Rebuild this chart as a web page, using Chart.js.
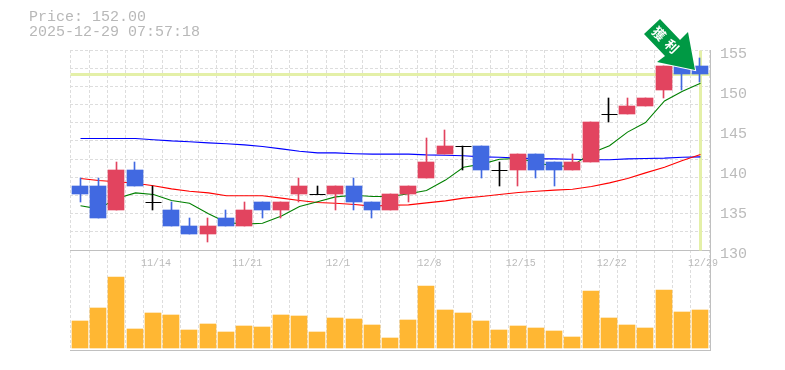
<!DOCTYPE html>
<html>

<head>
    <title>Price Chart</title>
    <meta charset="utf-8">
    <script src="https://cdn.jsdelivr.net/npm/chart.js"></script>
    <style>
        body { margin: 0; background: #fff; }
        #wrap { position: relative; width: 785px; height: 370px; overflow: hidden; }
        #head { position: absolute; left: 29px; top: 10px; font: 15px/15px "Liberation Mono", monospace; color: #b8b8b8; white-space: pre; }
        canvas { display: block; }
    </style>
</head>

<body>
    <div id="wrap">
        <div id="head">Price: 152.00
2025-12-29 07:57:18</div>
        <canvas id="priceChart" width="785" height="370"></canvas>
    </div>
    <script>
        // values
        const opens = [138, 138, 135, 140, 136, 135, 133, 132, 134, 133, 136, 135, 137, 137, 137, 138, 136, 135, 137, 139, 142, 143, 143, 140, 140, 142, 141, 140, 141, 147, 147, 148, 150, 153, 153]
        const closes = [137, 134, 140, 138, 136, 133, 132, 133, 133, 135, 135, 136, 138, 137, 138, 136, 135, 137, 138, 141, 143, 143, 140, 140, 142, 140, 140, 141, 146, 147, 148, 149, 153, 152, 152]
        const highs = [139, 139, 141, 141, 138, 136, 134, 134, 135, 136, 136, 136, 139, 138, 138, 139, 136, 137, 138, 144, 145, 143, 143, 141, 142, 142, 141, 142, 146, 149, 149, 149, 153, 153, 154]
        const lows = [136, 134, 135, 138, 135, 133, 132, 131, 133, 133, 134, 134, 136, 137, 135, 135, 134, 135, 136, 139, 142, 140, 139, 138, 138, 139, 138, 140, 141, 146, 147, 148, 149, 150, 151]
        const maShort = [135.6, 135.2, 136.5, 137.2, 137, 136.25, 135.9, 134.6, 133.5, 133.3, 133.4, 134.3, 135.5, 136.1, 136.7, 136.9, 136.75, 136.75, 137.1, 137.5, 138.8, 140.4, 140.8, 141.4, 141.5, 141, 140.5, 140.6, 142.2, 143.1, 144.8, 146, 148.7, 149.9, 150.9]
        const maMiddle = [139, 138.75, 138.6, 138.4, 138.1, 137.7, 137.4, 137.2, 136.85, 136.85, 136.85, 136.55, 136.25, 136, 135.9, 135.75, 135.55, 135.65, 135.7, 135.95, 136.2, 136.55, 136.75, 137, 137.25, 137.4, 137.55, 137.65, 138, 138.45, 139, 139.7, 140.4, 141.25, 142]
        const maLong = [144, 144, 144, 144, 143.85, 143.7, 143.6, 143.45, 143.35, 143.2, 143, 142.7, 142.4, 142.2, 142.2, 142.1, 142.05, 142.05, 142.05, 141.95, 141.9, 141.85, 141.7, 141.65, 141.55, 141.45, 141.45, 141.4, 141.35, 141.35, 141.45, 141.5, 141.55, 141.65, 141.7]
        const volumes = [27, 40, 71, 19, 35, 33, 18, 24, 16, 22, 21, 33, 32, 16, 30, 29, 23, 10, 28, 62, 38, 35, 27, 18, 22, 20, 17, 11, 57, 30, 23, 20, 58, 36, 38]
        const dateIndexes = [4, 9, 14, 19, 24, 29, 34]
        const dateLabels = ['11/14', '11/21', '12/1', '12/8', '12/15', '12/22', '12/29']
        const priceTicks = [155, 150, 145, 140, 135, 130]
        const lastPrice = 152

        const UP = '#e2445f'
        const DOWN = '#4169e1'
        const GRID = '#dddddd'
        const AXIS = '#c0c0c0'
        const LABEL = '#bbbbbb'
        const HILITE = '#e4f0a8'
        const DASH = [3, 2]

        const candleColor = opens.map((o, i) => o == closes[i] ? '#000000' : (closes[i] > o ? UP : DOWN))
        const lastIndex = opens.length - 1
        const xMin = -0.55
        const xMax = lastIndex + 0.55
        const priceMax = 155
        const priceMin = 117.5
        const gridStep = 25 / 11

        function series(values) {
            return values.map((y, x) => ({ x: x, y: y }))
        }

        function lineSet(values, color, order) {
            return { type: 'line', data: series(values), borderColor: color, borderWidth: 1.1, pointRadius: 0, tension: 0, order: order, yAxisID: 'y' }
        }

        // the source chart sits on whole pixels
        const snapMarks = {
            id: 'snapMarks',
            afterDatasetsUpdate(chart) {
                chart.data.datasets.forEach((ds, i) => {
                    chart.getDatasetMeta(i).data.forEach((el) => {
                        if (ds.type == 'line' || ds.type == 'scatter') {
                            el.x = Math.round(el.x) + 0.5
                            el.y = el.y + 0.5
                        } else {
                            el.x = Math.round(el.x - el.width / 2) + el.width / 2
                        }
                    })
                })
            }
        }

        // date labels sit inside the plot, at the top of the volume panel
        const dateRow = {
            id: 'dateRow',
            afterDraw(chart) {
                const ctx = chart.ctx
                ctx.save()
                ctx.fillStyle = LABEL
                ctx.font = '10px "Liberation Mono"'
                ctx.textAlign = 'center'
                ctx.textBaseline = 'middle'
                dateIndexes.forEach((idx, k) => {
                    ctx.fillText(dateLabels[k], chart.scales.x.getPixelForValue(idx) + 3, 263)
                })
                ctx.restore()
            }
        }

        // green marker badge in the top right corner
        const arrowShape = [[660, 19], [644, 34], [665, 56], [657, 62], [695, 70], [688, 32], [680, 40]]
        const arrowBadge = {
            id: 'arrowBadge',
            afterDraw(chart) {
                const ctx = chart.ctx
                ctx.save()
                ctx.beginPath()
                arrowShape.forEach((p, i) => i ? ctx.lineTo(p[0], p[1]) : ctx.moveTo(p[0], p[1]))
                ctx.closePath()
                ctx.strokeStyle = '#ffffff'
                ctx.lineWidth = 2
                ctx.stroke()
                ctx.fillStyle = '#009944'
                ctx.fill()
                ctx.fillStyle = '#ffffff'
                ctx.font = 'bold 13px "Noto Sans CJK JP"'
                ctx.textAlign = 'center'
                ctx.textBaseline = 'middle'
                ctx.translate(665.5, 40)
                ctx.rotate(Math.PI / 4)
                ctx.fillText('獲', -9, 0)
                ctx.fillText('利', 9, 0)
                ctx.restore()
            }
        }

        new Chart(document.getElementById('priceChart'), {
            type: 'bar',
            plugins: [snapMarks, dateRow, arrowBadge],
            data: {
                datasets: [
                    { data: series(volumes), backgroundColor: '#ffb733', barThickness: 16, grouped: false, order: 10, yAxisID: 'vol' },
                    { type: 'line', data: [{ x: xMin, y: lastPrice }, { x: xMax, y: lastPrice }], borderColor: HILITE, borderWidth: 3, pointRadius: 0, order: 9, yAxisID: 'y' },
                    { type: 'line', data: [{ x: lastIndex, y: 130 }, { x: lastIndex, y: 155 }], borderColor: HILITE, borderWidth: 3, pointRadius: 0, order: 9, yAxisID: 'y' },
                    lineSet(maLong, '#0000ff', 8),
                    lineSet(maMiddle, '#ff0000', 7),
                    lineSet(maShort, '#008000', 6),
                    { data: highs.map((h, i) => ({ x: i, y: [lows[i], h] })), backgroundColor: candleColor, barThickness: 1, grouped: false, order: 5, yAxisID: 'y' },
                    { data: opens.map((o, i) => ({ x: i, y: [o, closes[i]] })).filter((d) => d.y[0] != d.y[1]), backgroundColor: (c) => c.raw && (c.raw.y[1] > c.raw.y[0] ? UP : DOWN), barThickness: 16, grouped: false, order: 4, yAxisID: 'y' },
                    { type: 'scatter', data: opens.map((o, i) => ({ x: i, y: o })).filter((d) => d.y == closes[d.x]), pointStyle: 'line', pointRadius: 8, borderColor: '#000000', borderWidth: 1, order: 3, yAxisID: 'y' }
                ]
            },
            options: {
                responsive: false,
                animation: false,
                layout: { padding: { left: 70, top: 50, right: 0, bottom: 0 } },
                plugins: { legend: { display: false }, tooltip: { enabled: false }, title: { display: false } },
                scales: {
                    x: {
                        type: 'linear',
                        offset: false,
                        min: xMin,
                        max: xMax,
                        afterBuildTicks(scale) {
                            scale.ticks = [{ value: xMin }].concat(opens.map((o, i) => ({ value: i + 0.5 })))
                        },
                        afterFit(scale) { scale.height = 20 },
                        grid: { color: GRID, drawTicks: false, offset: false },
                        border: { display: true, color: AXIS, dash: DASH },
                        ticks: { display: false }
                    },
                    yGrid: {
                        position: 'right',
                        min: priceMin,
                        max: priceMax,
                        weight: 0,
                        afterBuildTicks(scale) {
                            const t = [{ value: priceMin }]
                            for (let k = 11; k >= 0; k--) t.push({ value: priceMax - k * gridStep })
                            scale.ticks = t
                        },
                        afterFit(scale) { scale.width = 0 },
                        grid: {
                            color: (c) => c.tick && c.tick.value <= 130.001 ? AXIS : GRID,
                            drawTicks: false
                        },
                        border: {
                            display: true,
                            color: AXIS,
                            dash: (c) => c.tick && c.tick.value <= 130.001 ? [] : DASH
                        },
                        ticks: { display: false }
                    },
                    y: {
                        position: 'right',
                        min: priceMin,
                        max: priceMax,
                        weight: 1,
                        afterBuildTicks(scale) {
                            scale.ticks = priceTicks.map((v) => ({ value: v }))
                        },
                        afterFit(scale) { scale.width = 75 },
                        grid: { display: false, drawTicks: false },
                        border: { display: false },
                        ticks: {
                            padding: 10,
                            labelOffset: 4,
                            color: LABEL,
                            font: { family: '"Liberation Mono"', size: 15 }
                        }
                    },
                    vol: { display: false, min: -2, max: 298 }
                }
            }
        });
    </script>
</body>

</html>
